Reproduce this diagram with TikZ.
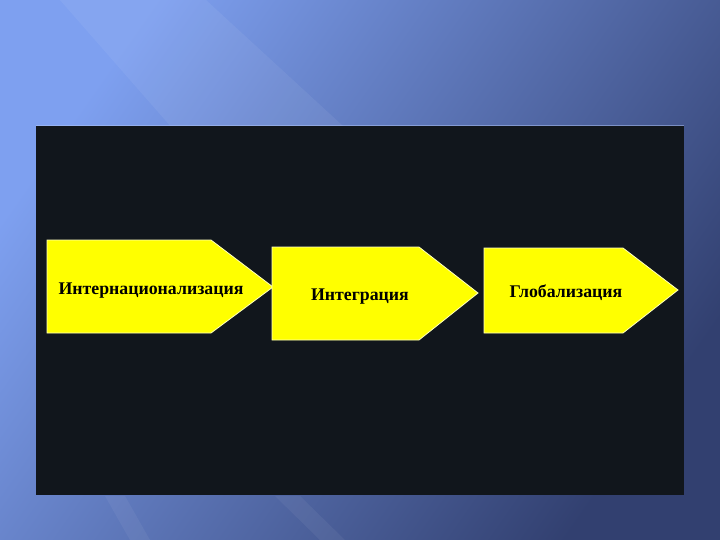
\documentclass[tikz,border=0pt]{standalone}
\usepackage{fontspec}
\setmainfont{Liberation Serif}
\definecolor{bglight}{RGB}{126,160,240}
\definecolor{bgdark}{RGB}{50,64,112}
\definecolor{boardblack}{RGB}{17,22,28}
\definecolor{signyellow}{RGB}{255,255,0}
\definecolor{signedge}{RGB}{255,255,190}

\begin{document}
\begin{tikzpicture}[x=1pt, y=-1pt,
		signbox/.style={fill=signyellow, draw=signedge, line width=0.8pt},
		signtext/.style={font=\fontsize{17.8}{21}\selectfont\bfseries, text=black, inner sep=0pt}]
		%%%%% START %%%%%
		\useasboundingbox (0, 0) rectangle (720, 540);
		\shade[shading=axis, left color=bglight, right color=bgdark, shading angle=55] (0, 0) rectangle (720, 540);
		\fill[white, opacity=0.06] (60, 0) -- (206, 0) -- (380, 160) -- (200, 160) -- cycle;
		\fill[white, opacity=0.05] (105, 496) -- (125, 496) -- (150, 540) -- (130, 540) -- cycle;
		\fill[white, opacity=0.05] (275, 496) -- (300, 496) -- (345, 540) -- (320, 540) -- cycle;
		
		\fill[boardblack] (36, 126) rectangle (684, 495);
		\draw[bglight!60!white, opacity=0.5, line width=1pt] (36, 125.5) -- (684, 125.5);
		
		\draw[signbox] (47, 240) -- (211, 240) -- (273, 287) -- (211, 333) -- (47, 333) -- cycle;
		\node[signtext] (intern) at (151, 291) {Интернационализация};
		
		\draw[signbox] (272, 247) -- (419, 247) -- (478, 293) -- (419, 340) -- (272, 340) -- cycle;
		\node[signtext] (integr) at (360, 297) {Интеграция};
		
		\draw[signbox] (484, 248) -- (623, 248) -- (678, 290) -- (623, 333) -- (484, 333) -- cycle;
		\node[signtext] (global) at (566, 293) {Глобализация};
		%%%%% END %%%%%
\end{tikzpicture}
\end{document}
